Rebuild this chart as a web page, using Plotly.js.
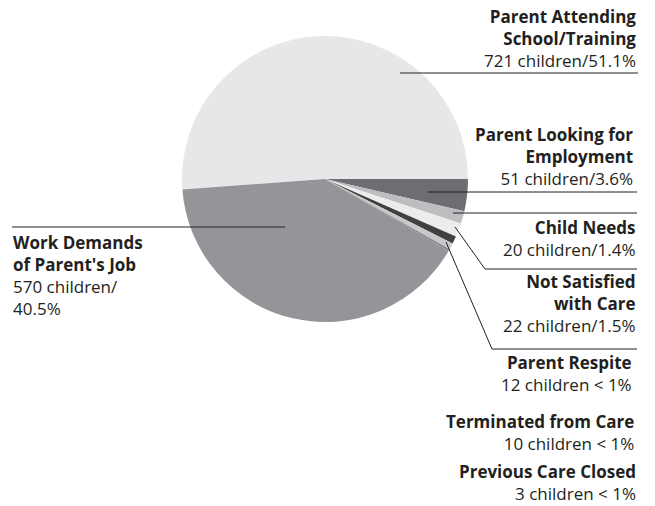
<!DOCTYPE html>
<html>
<head>
<meta charset="utf-8">
<script src="https://cdn.plot.ly/plotly-3.0.1.min.js"></script>
<style>html,body{margin:0;padding:0;background:#fff;}#chart{width:655px;height:506px;}</style>
</head>
<body>
<div id="chart"></div>
<script>
// Data
var categories = ["Parent Attending School/Training", "Parent Looking for Employment", "Child Needs",
  "Not Satisfied with Care", "Parent Respite", "Terminated from Care", "Previous Care Closed",
  "Work Demands of Parent's Job"];
var children = [721, 51, 20, 22, 12, 10, 3, 570];
var nameLines = ["Parent Attending<br>School/Training", "Parent Looking for<br>Employment", "Child Needs",
  "Not Satisfied<br>with Care", "Parent Respite", "Terminated from Care", "Previous Care Closed",
  "Work Demands<br>of Parent's Job"];
var detailLines = ["721 children/51.1%", "51 children/3.6%", "20 children/1.4%", "22 children/1.5%",
  "12 children < 1%", "10 children < 1%", "3 children < 1%", "570 children/<br>40.5%"];

var colors = ["#e6e7e8", "#6d6e71", "#bcbec0", "#ececed", "#414042", "#c7c8ca", "#808285", "#939598"];

var W = 655, H = 506;
function px(x) { return x / W; }
function py(y) { return 1 - y / H; }

var total = children.reduce(function (a, b) { return a + b; }, 0);
var rot = 90 - 360 * children[0] / total + 360;

var cx = 325, cy = 179, r = 143;

var trace = {
  type: "pie",
  labels: categories,
  values: children,
  sort: false,
  direction: "clockwise",
  rotation: rot,
  textinfo: "none",
  hoverinfo: "label+value+percent",
  marker: { colors: colors, line: { width: 0 } },
  domain: { x: [px(cx - r), px(cx + r)], y: [py(cy + r), py(cy - r)] },
  showlegend: false
};

// label block layout: [x, center y, anchor]
var blocks = [
  [638, 38, "right"],
  [635, 156, "right"],
  [638, 239, "right"],
  [638, 303, "right"],
  [634, 373, "right"],
  [636, 432, "right"],
  [638, 482, "right"],
  [11, 275, "left"]
];

var annotations = categories.map(function (c, i) {
  var b = blocks[i];
  return {
    xref: "paper", yref: "paper",
    x: px(b[0]), y: py(b[1]),
    xanchor: b[2], yanchor: "middle", align: b[2],
    showarrow: false,
    text: "<b>" + nameLines[i] + "</b><br>" + detailLines[i],
    font: { family: "Open Sans, DejaVu Sans, sans-serif", size: 17, color: "#231f20" }
  };
});

// leader lines (pixel points converted to paper coords)
var leaders = [
  [[400, 73], [638, 73]],
  [[428, 192], [637, 192]],
  [[453, 213], [637, 213]],
  [[455, 227], [485, 269], [637, 269]],
  [[446, 242], [492, 349], [637, 349]],
  [[285, 227], [12, 227]]
];
var shapes = [];
leaders.forEach(function (pts) {
  for (var k = 0; k < pts.length - 1; k++) {
    shapes.push({
      type: "line", xref: "paper", yref: "paper",
      x0: px(pts[k][0]), y0: py(pts[k][1]), x1: px(pts[k + 1][0]), y1: py(pts[k + 1][1]),
      line: { color: "#231f20", width: 1 }
    });
  }
});

var layout = {
  width: W, height: H,
  margin: { l: 0, r: 0, t: 0, b: 0 },
  paper_bgcolor: "#ffffff",
  annotations: annotations,
  shapes: shapes
};

Plotly.newPlot("chart", [trace], layout, { displayModeBar: false, staticPlot: true });
</script>
</body>
</html>
